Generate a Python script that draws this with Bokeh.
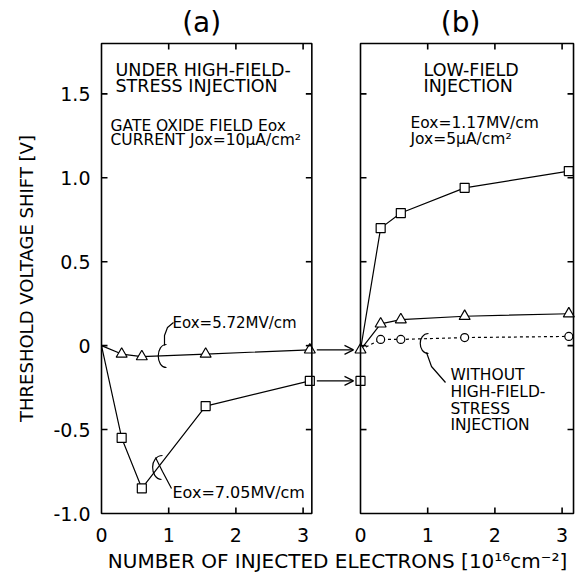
import numpy as np
from bokeh.plotting import figure
from bokeh.models import (Range1d, FixedTicker, CustomJSTickFormatter, Label,
                          Arrow, OpenHead, LinearAxis)
from bokeh.embed import file_html
from bokeh.resources import INLINE

# ---------------- data ----------------
# panel (a): under high-field-stress injection
x_a = [0, 0.3, 0.6, 1.55, 3.1]
tri_a = [0, -0.05, -0.065, -0.05, -0.025]      # Eox = 5.72 MV/cm
sq_a = [0, -0.55, -0.85, -0.36, -0.21]         # Eox = 7.05 MV/cm
# panel (b): low-field injection
x_b = [0, 0.3, 0.6, 1.55, 3.1]
sq_b = [-0.025, 0.70, 0.79, 0.94, 1.04]
tri_b = [-0.025, 0.13, 0.155, 0.175, 0.19]
circ_b = [-0.025, 0.037, 0.037, 0.048, 0.055]  # without high-field stress

x_ticks = [0, 1, 2, 3]
y_ticks = [-1.0, -0.5, 0, 0.5, 1.0, 1.5]
panel_titles = ["(a)", "(b)"]
x_max_a, x_max_b = 3.13, 3.17
y_min, y_max = -1.0, 1.8

FONT = "DejaVu Sans"

# ---------------- layout (pixels) ----------------
W, H = 580, 586
FL, FR, FT, FB = 97, 577, 39, 517      # frame edges
PL, PB0, PBOT = 101, 360, 513          # panel-a left, panel-b origin, panels bottom
SX = 67.2
SY = (PBOT - 43) / (y_max - y_min)
TITLE_X = 1.49                         # title centre, in each panel's x units

OFF = (PB0 - PL) / SX

def xa(px):
    return (px - PL) / SX

def yy(py):
    return y_min + (PBOT - py) / SY

x_range = Range1d(xa(FL), xa(FR))
y_range = Range1d(yy(FB), yy(FT))

p = figure(width=W, height=H, x_range=x_range, y_range=y_range,
           output_backend="svg", toolbar_location=None,
           min_border_left=FL, min_border_right=W - FR,
           min_border_top=FT, min_border_bottom=H - FB)
p.extra_x_ranges = {"b": Range1d(xa(FL) - OFF, xa(FR) - OFF)}
p.outline_line_color = None
p.xgrid.visible = False
p.ygrid.visible = False
p.background_fill_color = "white"
p.border_fill_color = "white"

# ---------------- axes (labels only; frame drawn below) ----------------
xt = [float(t) for t in x_ticks] + [round(OFF + t, 6) for t in x_ticks]
xax = p.xaxis[0]
xax.ticker = FixedTicker(ticks=xt)
xax.formatter = CustomJSTickFormatter(
    code="const off = %f; const v = tick > off - 0.3 ? tick - off : tick; return Math.round(v).toString();" % OFF)
yax = p.yaxis[0]
yax.ticker = FixedTicker(ticks=y_ticks)
yax.formatter = CustomJSTickFormatter(
    code="return Math.abs(tick) < 1e-9 ? '0' : tick.toFixed(1);")
tax = LinearAxis(ticker=FixedTicker(ticks=[TITLE_X, round(OFF + TITLE_X, 6)]),
                 formatter=CustomJSTickFormatter(
                     code="return tick < %f ? '%s' : '%s';" % (OFF, panel_titles[0], panel_titles[1])))
p.add_layout(tax, "above")
for ax in (xax, yax, tax):
    ax.axis_line_color = None
    ax.major_tick_in = 0
    ax.major_tick_out = 0
    ax.minor_tick_in = 0
    ax.minor_tick_out = 0
    ax.major_label_text_font = FONT
    ax.major_label_text_font_size = "19px"
    ax.major_label_text_color = "black"
    ax.axis_label_text_font = FONT
    ax.axis_label_text_font_style = "normal"
    ax.axis_label_text_color = "black"
tax.major_label_text_font_size = "28px"
tax.major_label_standoff = 1
xax.major_label_standoff = 10
xax.axis_label_standoff = 4
xax.axis_label_text_font_size = "20px"
xax.axis_label = "NUMBER OF INJECTED ELECTRONS [10\u00b9\u2076cm\u207b\u00b2]"
yax.major_label_standoff = 7
yax.axis_label_standoff = 13
yax.axis_label_text_font_size = "18px"
yax.axis_label = "THRESHOLD VOLTAGE SHIFT [V]"

# ---------------- curves ----------------
LW = 1.2
p.line(x_a, tri_a, line_color="black", line_width=LW)
p.line(x_a, sq_a, line_color="black", line_width=LW)
p.line(x_b, sq_b, line_color="black", line_width=LW, x_range_name="b")
p.line(x_b, tri_b, line_color="black", line_width=LW, x_range_name="b")
p.line(x_b, circ_b, line_color="black", line_width=LW, line_dash="3 3",
       x_range_name="b")

mk = dict(fill_color="white", line_color="black", line_width=LW)
p.scatter(x_a[1:], tri_a[1:], marker="triangle", size=11, **mk)
p.scatter(x_a[1:], sq_a[1:], marker="square", size=9, **mk)
p.scatter(x_b[1:], sq_b[1:], marker="square", size=9, x_range_name="b", **mk)
p.scatter([x_b[0]], [sq_a[-1]], marker="square", size=9, x_range_name="b", **mk)
p.scatter(x_b, tri_b, marker="triangle", size=11, x_range_name="b", **mk)
p.scatter(x_b[1:], circ_b[1:], marker="circle", size=8, x_range_name="b", **mk)

# ---------------- panel frames with inward ticks ----------------
BW = 1.6
for xmax, rn in ((x_max_a, "default"), (x_max_b, "b")):
    p.quad(left=0, right=xmax, bottom=y_min, top=y_max, fill_color=None,
           line_color="black", line_width=BW, x_range_name=rn)
    inner_x = [t for t in x_ticks if 0 < t < xmax]
    inner_y = [t for t in y_ticks if y_min < t < y_max]
    tk = dict(length=6, length_units="screen", line_color="black",
              line_width=BW, x_range_name=rn)
    p.ray(x=inner_x, y=[y_min] * len(inner_x), angle=np.pi / 2, **tk)
    p.ray(x=inner_x, y=[y_max] * len(inner_x), angle=-np.pi / 2, **tk)
    p.ray(x=[0] * len(inner_y), y=inner_y, angle=0, **tk)
    p.ray(x=[xmax] * len(inner_y), y=inner_y, angle=np.pi, **tk)

# ---------------- arrows between the panels ----------------
for ya, yb in ((tri_a[-1], tri_b[0]), (sq_a[-1], sq_a[-1])):
    p.add_layout(Arrow(end=OpenHead(size=9, line_width=LW, line_color="black"),
                       x_start=x_a[-1] + 7 / SX, y_start=ya,
                       x_end=OFF + x_b[0] - 7 / SX, y_end=yb,
                       line_color="black", line_width=LW))

# ---------------- curly brackets and leaders ----------------
def bez(pts):
    (x0, y0), (c0x, c0y), (c1x, c1y), (x1, y1) = pts
    p.bezier(x0=[xa(x0)], y0=[yy(y0)], x1=[xa(x1)], y1=[yy(y1)],
             cx0=[xa(c0x)], cy0=[yy(c0y)], cx1=[xa(c1x)], cy1=[yy(c1y)],
             line_color="black", line_width=LW)

def leader(pts):
    p.line([xa(a) for a, b in pts], [yy(b) for a, b in pts],
           line_color="black", line_width=LW)

bez([(166, 344), (155, 344), (155, 367), (166, 367)])
leader([(164, 345), (164, 335), (167, 327), (173, 322)])
bez([(162, 455), (149, 455), (149, 478), (161, 479)])
leader([(155, 457), (162, 471), (171, 488)])
bez([(428, 333), (417, 333), (417, 353), (428, 353)])
leader([(426, 352), (431, 366), (445, 382)])

# ---------------- text ----------------
def txt(px, py, s, size="15px", align="left"):
    p.add_layout(Label(x=xa(px), y=yy(py), text=s, text_font=FONT,
                       text_font_size=size, text_align=align,
                       text_baseline="middle", text_color="black"))

txt(115, 69, "UNDER HIGH-FIELD-", "17.5px")
txt(115, 85, "STRESS INJECTION", "17.5px")
txt(110, 125, "GATE OXIDE FIELD Eox", "15.5px")
txt(110, 139, "CURRENT  Jox=10\u00b5A/cm\u00b2", "15.5px")
txt(423, 69, "LOW-FIELD", "17.5px")
txt(423, 85, "INJECTION", "17.5px")
txt(410, 122, "Eox=1.17MV/cm", "15.5px")
txt(410, 138, "Jox=5\u00b5A/cm\u00b2", "15.5px")
txt(172, 322, "Eox=5.72MV/cm", "15px")
txt(172, 492, "Eox=7.05MV/cm", "16px")
txt(450, 374, "WITHOUT", "15.5px")
txt(450, 391, "HIGH-FIELD-", "15.5px")
txt(450, 408, "STRESS", "15.5px")
txt(450, 424, "INJECTION", "15.5px")

open("out.html", "w").write(file_html(p, INLINE))
